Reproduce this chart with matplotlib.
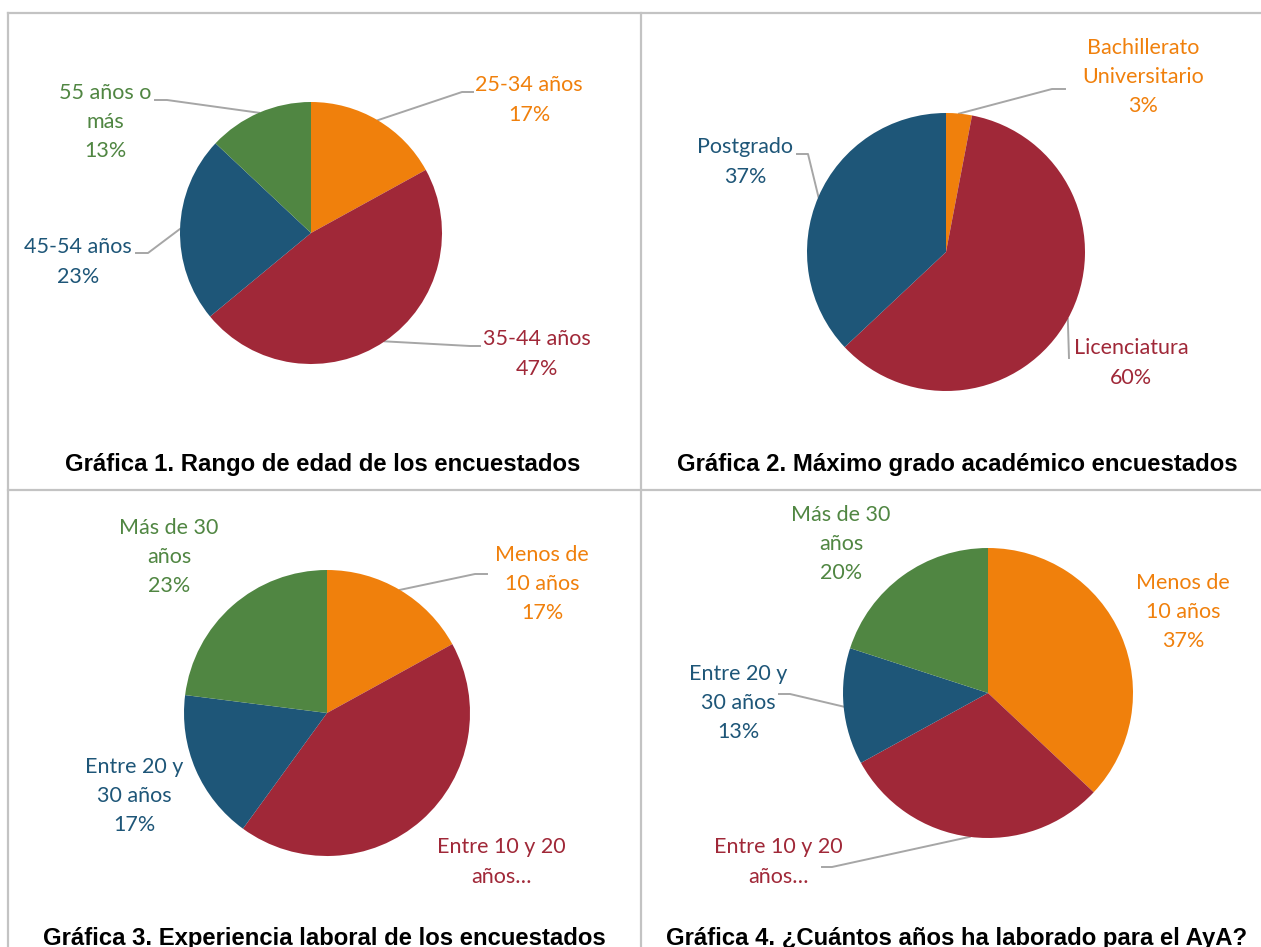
import numpy as np
import matplotlib.pyplot as plt

# datos
edad_cat = ["25-34 años", "35-44 años", "45-54 años", "55 años o\nmás"]
edad_val = [17, 47, 23, 13]

grado_cat = ["Bachillerato\nUniversitario", "Licenciatura", "Postgrado"]
grado_val = [3, 60, 37]

exp_cat = ["Menos de\n10 años", "Entre 10 y 20\naños…", "Entre 20 y\n30 años", "Más de 30\naños"]
exp_val = [17, 43, 17, 23]

aya_cat = ["Menos de\n10 años", "Entre 10 y 20\naños…", "Entre 20 y\n30 años", "Más de 30\naños"]
aya_val = [37, 30, 13, 20]

titulos = ["Gráfica 1. Rango de edad de los encuestados",
           "Gráfica 2. Máximo grado académico encuestados",
           "Gráfica 3. Experiencia laboral de los encuestados",
           "Gráfica 4. ¿Cuántos años ha laborado para el AyA?"]

naranja, rojo, azul, verde = "#F0800C", "#A02838", "#1E5678", "#508642"
colores4 = [naranja, rojo, azul, verde]
colores3 = [naranja, rojo, azul]

W, H = 1261, 947
fig = plt.figure(figsize=(W / 100, H / 100), dpi=100)
bg = fig.add_axes([0, 0, 1, 1])
bg.set_xlim(0, W)
bg.set_ylim(H, 0)
bg.axis("off")

# marco de la tabla
borde = "#C3C3C3"
bg.plot([8, W], [13, 13], color=borde, lw=1.6)
bg.plot([8, W], [490, 490], color=borde, lw=1.6)
bg.plot([8, 8], [13, H], color=borde, lw=1.6)
bg.plot([641, 641], [13, H], color=borde, lw=1.6)

gris = "#A6A6A6"
fuente = "Lato"
fs = 15.5


def torta(cat, val, col, cx, cy, r, pos, guias):
    ax = fig.add_axes([(cx - r) / W, 1 - (cy + r) / H, 2 * r / W, 2 * r / H])
    wedges, _ = ax.pie(val, colors=col, startangle=90, counterclock=False,
                       wedgeprops=dict(linewidth=0))
    ax.set_xlim(-1, 1)
    ax.set_ylim(-1, 1)
    for w, c, v, color, p, g in zip(wedges, cat, val, col, pos, guias):
        txt = c if c.endswith("…") else f"{c}\n{v}%"
        bg.text(p[0], p[1], txt, ha="center", va="center", color=color,
                fontsize=fs, family=fuente, linespacing=1.57)
        if g is not None:
            ang = np.deg2rad((w.theta1 + w.theta2) / 2)
            x0, y0 = cx + r * np.cos(ang), cy - r * np.sin(ang)
            (kx, ky), (ex, ey) = g
            bg.plot([x0, kx, ex], [y0, ky, ey], color=gris, lw=1.4, zorder=1)


torta(edad_cat, edad_val, colores4, 311, 233, 131,
      [(529, 100), (537, 354), (78, 262), (105, 122)],
      [((462, 92), (473, 92)), ((470, 346), (480, 346)),
       ((148, 253), (136, 253)), ((167, 100), (155, 100))])

torta(grado_cat, grado_val, colores3, 946, 252, 139,
      [(1143, 77), (1131, 363), (745, 162)],
      [((1052, 89), (1065, 89)), ((1069, 358), (1069, 358)),
       ((808, 154), (797, 154))])

torta(exp_cat, exp_val, colores4, 327, 713, 143,
      [(542, 584), (501, 862), (134, 796), (169, 557)],
      [((475, 574), (487, 574)), None, None, None])

torta(aya_cat, aya_val, colores4, 988, 693, 145,
      [(1183, 612), (778, 862), (738, 703), (841, 544)],
      [None, ((832, 867), (822, 867)), ((790, 694), (779, 694)), None])

# titulos
for t, (x, y) in zip(titulos, [(323, 464), (957, 464), (324, 938), (957, 938)]):
    bg.text(x, y, t, ha="center", va="center", fontsize=17.2, fontweight="bold",
            family="Liberation Sans", color="black")

fig.savefig("out.png", dpi=100)
